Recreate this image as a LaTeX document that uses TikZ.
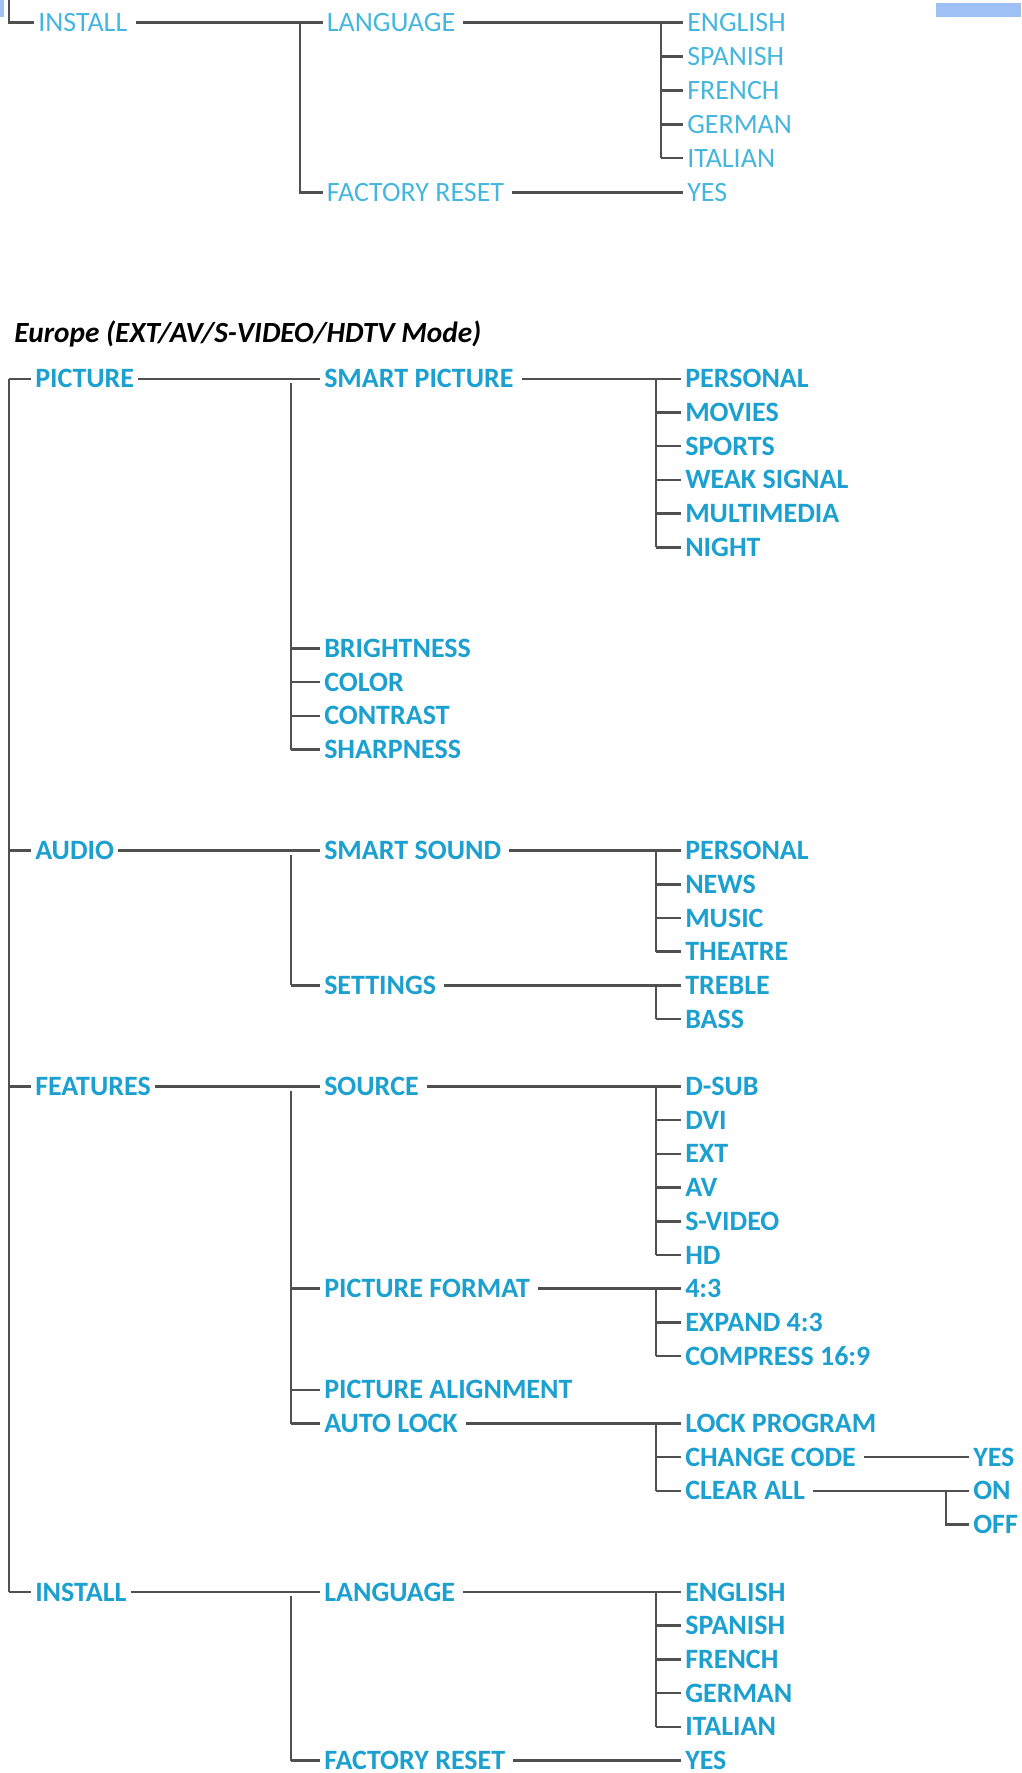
\documentclass[tikz,border=0pt]{standalone}
\usepackage{fontspec}
\setmainfont{Carlito}
\usetikzlibrary{positioning}
\definecolor{menublue}{RGB}{27,160,208}
\definecolor{oldblue}{RGB}{70,182,222}
\definecolor{tabblue}{RGB}{158,192,245}
\definecolor{wire}{RGB}{80,80,80}
\def\rowsep{33.7}
\def\topy{378.8}

\begin{document}
\begin{tikzpicture}[x=1pt,y=-1pt,line width=2.5pt,color=wire]
    \tikzstyle{item}=[anchor=west,inner xsep=3pt,inner ysep=0pt,text height=18pt,text depth=0pt,text=menublue,font=\fontsize{28}{30}\selectfont\bfseries]
    \tikzstyle{old item}=[item,text=oldblue,font=\fontsize{28}{30}\selectfont]
    \tikzstyle{heading}=[anchor=west,inner sep=0pt,text=black,font=\fontsize{29.3}{31}\selectfont\bfseries\itshape]
    \tikzstyle{down}=[shorten <=4pt]

    \useasboundingbox (0,0) rectangle (1021,1773);

    % Page tabs
    \fill[tabblue] (0,0) rectangle (4,17);
    \fill[tabblue] (936,3) rectangle (1021,17);

    % Branch columns
    \coordinate (tb2) at (300,0);
    \coordinate (tb3) at (661,0);
    \coordinate (b1) at (9,0);
    \coordinate (b2) at (291,0);
    \coordinate (b3) at (656,0);
    \coordinate (b4) at (946,0);

    % Draw the carried-over install menu
    \coordinate (tTop) at (9,0);
    \node[old item] (tInstall) at (34,22.6) {INSTALL};
    \node[old item] (tLang) at (322.6,22.6) {LANGUAGE};
    \node[old item] (tReset) at (322.6,192.5) {FACTORY RESET};
    \foreach \i / \txt in {1/ENGLISH,2/SPANISH,3/FRENCH,4/GERMAN,5/ITALIAN}
        \node[old item] (tL-\i) at (683,{22.6+33.9*(\i-1)}) {\txt};
    \node[old item] (tYes) at (683,192.5) {YES};

    \draw (tTop) |- (tInstall.west);
    \draw[down] (tInstall.east) -- (tLang.west);
    \draw (tLang.west -| tb2) |- (tReset.west);
    \draw[down] (tLang.east) -- (tL-1.west);
    \draw (tL-1.west -| tb3) -- (tL-5.west -| tb3);
    \foreach \i in {2,...,5}
        \draw (tL-\i.west -| tb3) -- (tL-\i.west);
    \draw[down] (tReset.east) -- (tYes.west);

    % Heading
    \node[heading] (title) at (13,333.6) {Europe (EXT/AV/S-VIDEO/HDTV Mode)};

    % Draw the main menu
    \foreach \name / \r / \txt in {pic/0/PICTURE,aud/14/AUDIO,feat/21/FEATURES,inst/36/INSTALL}
        \node[item] (\name) at (31,{\topy+\rowsep*\r}) {\txt};

    % Draw the sub menus
    \foreach \name / \r / \txt in {smartpic/0/SMART PICTURE,bright/8/BRIGHTNESS,color/9/COLOR,contrast/10/CONTRAST,sharp/11/SHARPNESS,
        smartsnd/14/SMART SOUND,settings/18/SETTINGS,
        source/21/SOURCE,picfmt/27/PICTURE FORMAT,picalign/30/PICTURE ALIGNMENT,autolock/31/AUTO LOCK,
        lang/36/LANGUAGE,reset/41/FACTORY RESET}
        \node[item] (\name) at (320,{\topy+\rowsep*\r}) {\txt};

    % Draw the options
    \foreach \i / \txt in {1/PERSONAL,2/MOVIES,3/SPORTS,4/WEAK SIGNAL,5/MULTIMEDIA,6/NIGHT}
        \node[item] (SP-\i) at (681,{\topy+\rowsep*(\i-1)}) {\txt};
    \foreach \i / \txt in {1/PERSONAL,2/NEWS,3/MUSIC,4/THEATRE}
        \node[item] (SS-\i) at (681,{\topy+\rowsep*(13+\i)}) {\txt};
    \foreach \i / \txt in {1/TREBLE,2/BASS}
        \node[item] (ST-\i) at (681,{\topy+\rowsep*(17+\i)}) {\txt};
    \foreach \i / \txt in {1/D-SUB,2/DVI,3/EXT,4/AV,5/S-VIDEO,6/HD}
        \node[item] (SRC-\i) at (681,{\topy+\rowsep*(20+\i)}) {\txt};
    \foreach \i / \txt in {1/4:3,2/EXPAND 4:3,3/COMPRESS 16:9}
        \node[item] (PF-\i) at (681,{\topy+\rowsep*(26+\i)}) {\txt};
    \foreach \i / \txt in {1/LOCK PROGRAM,2/CHANGE CODE,3/CLEAR ALL}
        \node[item] (AL-\i) at (681,{\topy+\rowsep*(30+\i)}) {\txt};
    \foreach \i / \txt in {1/ENGLISH,2/SPANISH,3/FRENCH,4/GERMAN,5/ITALIAN}
        \node[item] (L-\i) at (681,{\topy+\rowsep*(35+\i)}) {\txt};
    \node[item] (yes) at (681,{\topy+\rowsep*41}) {YES};

    % Draw the last level
    \node[item] (ccyes) at (969,{\topy+\rowsep*32}) {YES};
    \node[item] (on) at (969,{\topy+\rowsep*33}) {ON};
    \node[item] (off) at (969,{\topy+\rowsep*34}) {OFF};

    % Connect the main menu
    \draw (pic.west -| b1) -- (inst.west -| b1);
    \foreach \name in {pic,aud,feat,inst}
        \draw (\name.west -| b1) -- (\name.west);

    % Connect the main menu with the sub menus
    \foreach \source / \first / \last in {pic/smartpic/sharp,aud/smartsnd/settings,feat/source/autolock,inst/lang/reset}
        \draw[down] (\source.east) -- (\first.west)
            (\first.west -| b2) -- (\last.west -| b2);
    \foreach \dest in {bright,color,contrast,sharp,settings,picfmt,picalign,autolock,reset}
        \draw (\dest.west -| b2) -- (\dest.west);

    % Connect the sub menus with the options
    \foreach \source / \group / \n in {smartpic/SP/6,smartsnd/SS/4,settings/ST/2,source/SRC/6,picfmt/PF/3,autolock/AL/3,lang/L/5}
    {
        \draw[down] (\source.east) -- (\group-1.west);
        \draw (\group-1.west -| b3) -- (\group-\n.west -| b3);
        \foreach \i in {2,...,\n}
            \draw (\group-\i.west -| b3) -- (\group-\i.west);
    }
    \draw[down] (reset.east) -- (yes.west);

    % Connect the auto lock options
    \draw[down] (AL-2.east) -- (ccyes.west);
    \draw[down] (AL-3.east) -- (on.west);
    \draw (on.west -| b4) |- (off.west);

\end{tikzpicture}
\end{document}
